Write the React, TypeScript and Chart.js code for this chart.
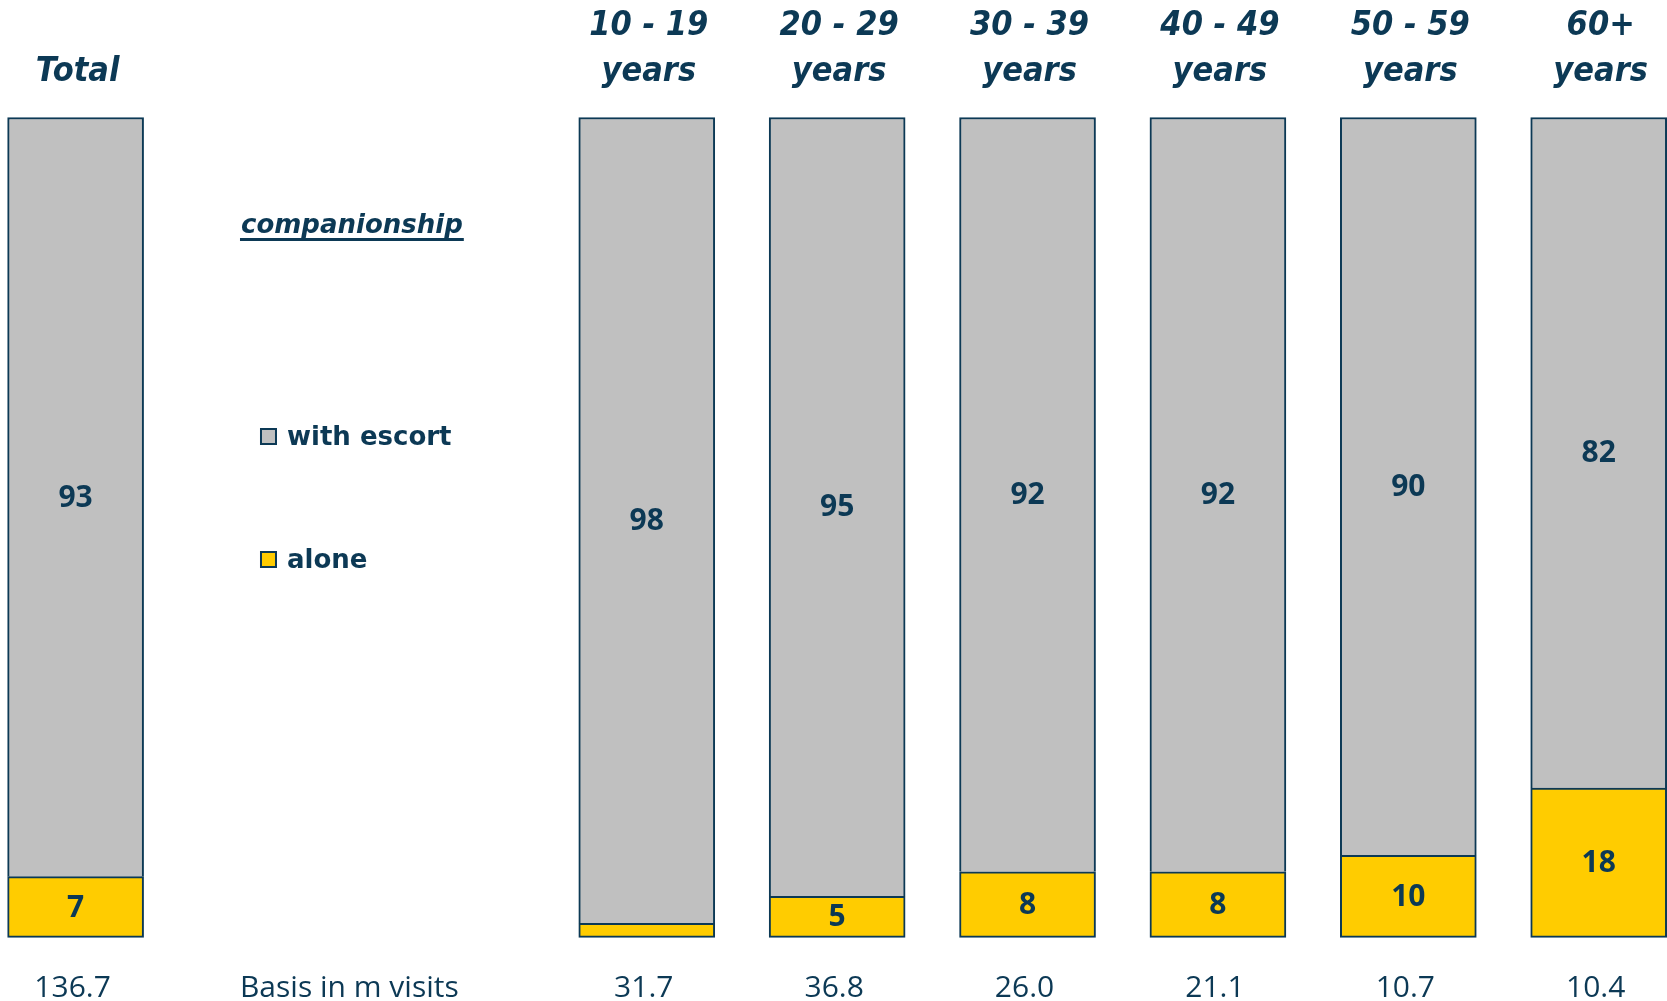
import { useEffect, useRef } from "react";
import { Chart, registerables } from "chart.js";

Chart.register(...registerables);

const categories = ["Total", "", "", "10 - 19 years", "20 - 29 years", "30 - 39 years", "40 - 49 years", "50 - 59 years", "60+ years"];
const headerLines: string[][] = [["Total"], [], [], ["10 - 19", "years"], ["20 - 29", "years"], ["30 - 39", "years"], ["40 - 49", "years"], ["50 - 59", "years"], ["60+", "years"]];
const aloneValues = [7.4, null, null, 1.7, 5, 8, 8, 10, 18.2];
const escortValues = [92.6, null, null, 98.3, 95, 92, 92, 90, 81.8];
const basisLabels = ["136.7", "", "", "31.7", "36.8", "26.0", "21.1", "10.7", "10.4"];
const seriesNames = ["alone", "with escort"];
const legendTitle = "companionship";
const basisCaption = "Basis in m visits";

const NAVY = "#0c3955";
const GRAY = "#c0c0c0";
const YELLOW = "#ffcc00";

const textPlugin = {
  id: "textPlugin",
  afterDatasetsDraw(chart: any) {
    const ctx = chart.ctx;
    ctx.save();
    ctx.fillStyle = NAVY;
    ctx.font = "bold 30px 'Open Sans'";
    ctx.textAlign = "center";
    ctx.textBaseline = "middle";
    chart.data.datasets.forEach((ds: any, di: number) => {
      const meta = chart.getDatasetMeta(di);
      meta.data.forEach((el: any, i: number) => {
        const v = ds.data[i];
        if (v == null) return;
        const h = Math.abs(el.base - el.y);
        if (h < 25) return;
        ctx.fillText(String(Math.round(v)), el.x, (el.y + el.base) / 2 + 1);
      });
    });
    ctx.restore();
  },
  afterDraw(chart: any) {
    const ctx = chart.ctx;
    const xs = chart.scales.x;
    ctx.save();
    ctx.fillStyle = NAVY;
    // headers
    ctx.font = "italic bold 34px 'DejaVu Sans'";
    ctx.textAlign = "center";
    ctx.textBaseline = "alphabetic";
    headerLines.forEach((lines, i) => {
      const x = xs.getPixelForValue(i) + 2;
      const n = lines.length;
      lines.forEach((ln, j) => {
        const y = 80.5 - (n - 1 - j) * 45.5;
        ctx.save();
        ctx.translate(x, y);
        ctx.scale(0.9, 1);
        ctx.fillText(ln, 0, 0);
        ctx.restore();
      });
    });
    // legend title
    const lx = xs.getPixelForValue(1) - 25;
    ctx.textAlign = "left";
    ctx.font = "italic bold 26px 'DejaVu Sans'";
    ctx.fillText(legendTitle, lx, 233);
    const tw = ctx.measureText(legendTitle).width;
    ctx.fillRect(lx - 1, 238, tw + 2, 3);
    // legend items
    const sq = xs.getPixelForValue(1) - 6;
    const items = [
      { name: seriesNames[1], color: GRAY, base: 445 },
      { name: seriesNames[0], color: YELLOW, base: 568 },
    ];
    ctx.font = "bold 26px 'DejaVu Sans'";
    items.forEach((it) => {
      ctx.fillStyle = NAVY;
      ctx.fillRect(sq, it.base - 17, 17, 17);
      ctx.fillStyle = it.color;
      ctx.fillRect(sq + 2, it.base - 15, 13, 13);
      ctx.fillStyle = NAVY;
      ctx.fillText(it.name, sq + 27, it.base);
    });
    // basis row
    ctx.font = "30px 'Open Sans'";
    ctx.textAlign = "left";
    ctx.fillText(basisCaption, lx - 1, 997);
    ctx.textAlign = "center";
    basisLabels.forEach((b, i) => {
      if (!b) return;
      ctx.fillText(b, xs.getPixelForValue(i) - 3, 997);
    });
    ctx.restore();
  },
};

export default function App() {
  const ref = useRef<HTMLCanvasElement | null>(null);
  useEffect(() => {
    if (!ref.current) return;
    const chart = new Chart(ref.current, {
      type: "bar",
      data: {
        labels: categories,
        datasets: [
          {
            label: seriesNames[0],
            data: aloneValues as any,
            backgroundColor: YELLOW,
            borderColor: NAVY,
            borderWidth: { top: 2, left: 2, right: 2, bottom: 2 },
            borderSkipped: false,
            barThickness: 136,
            clip: false as any,
          },
          {
            label: seriesNames[1],
            data: escortValues as any,
            backgroundColor: GRAY,
            borderColor: NAVY,
            borderWidth: { top: 2, left: 2, right: 2, bottom: 0 },
            borderSkipped: false,
            barThickness: 136,
            clip: false as any,
          },
        ],
      },
      options: {
        responsive: false,
        animation: false,
        layout: { padding: { left: 75.6, right: 68.3, top: 117.5, bottom: 63.7 } },
        plugins: { legend: { display: false }, tooltip: { enabled: false } },
        scales: {
          x: { type: "category", offset: false, stacked: true, display: false },
          y: { stacked: true, min: 0, max: 100, display: false },
        },
      },
      plugins: [textPlugin],
    });
    return () => chart.destroy();
  }, []);
  return (
    <div style={{ position: "fixed", left: 0, top: 0, width: 1667, height: 1001, background: "#fff" }}>
      <canvas ref={ref} width={1667} height={1001} style={{ display: "block" }} />
    </div>
  );
}
